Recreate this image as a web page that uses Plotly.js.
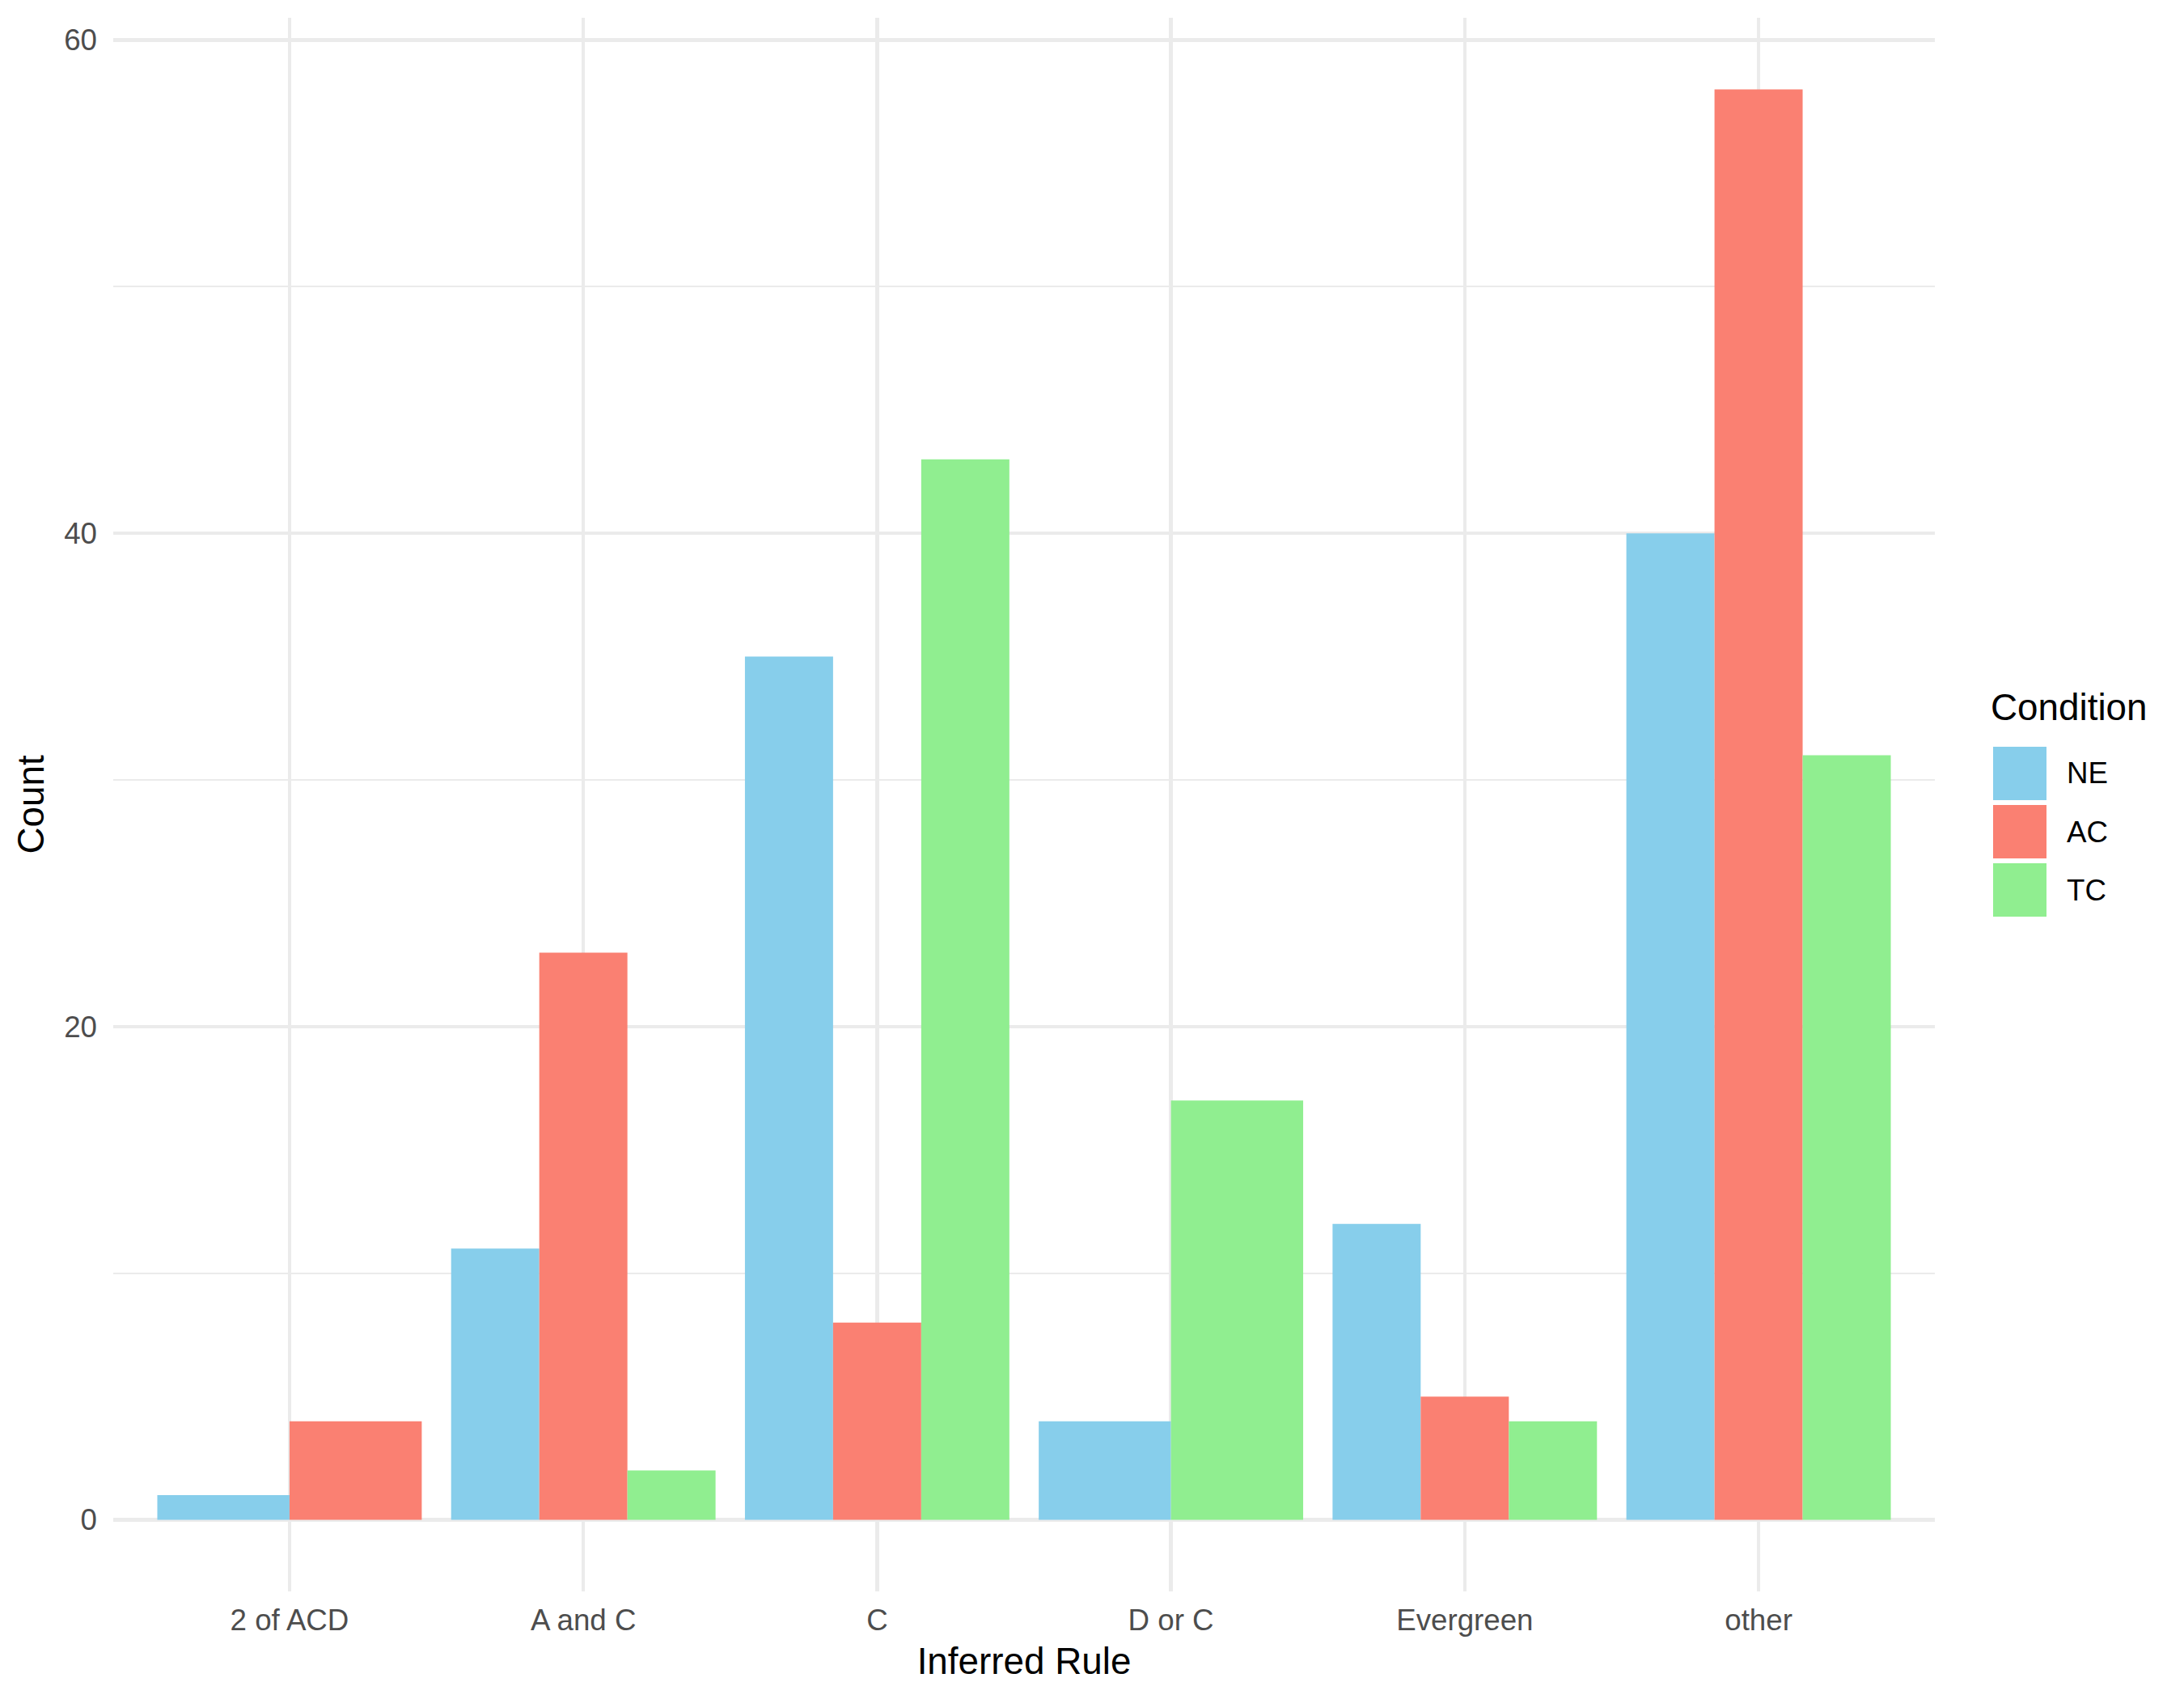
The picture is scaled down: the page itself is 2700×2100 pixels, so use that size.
<!DOCTYPE html>
<html>
<head>
<meta charset="utf-8">
<script src="https://cdn.plot.ly/plotly-3.0.1.min.js"></script>
<style>
  body { margin: 0; background: #fff; }
  #rulePlot { width: 2700px; height: 2100px; }
</style>
</head>
<body>
<div id="rulePlot"></div>
<script>
// inferred rule counts per condition (null = no bar in that group)
var rules = ['2 of ACD', 'A and C', 'C', 'D or C', 'Evergreen', 'other'];
var conditions = ['NE', 'AC', 'TC'];
var neCounts = [1, 11, 35, 4, 12, 40];
var acCounts = [4, 23, 8, null, 5, 58];
var tcCounts = [null, 2, 43, 17, 4, 31];
var colours = ['#87CEEB', '#FA8072', '#90EE90'];

var seriesCounts = [neCounts, acCounts, tcCounts];

// panel box in pixels, used for the hand drawn legend
var panel = { left: 140, right: 2392, top: 22, bottom: 1967 };
function px(x) { return (x - panel.left) / (panel.right - panel.left); }
function py(y) { return (panel.bottom - y) / (panel.bottom - panel.top); }

// ggplot style dodge: bars in a group share 0.9 of the slot
var groupWidth = 0.9;
var traces = [];
seriesCounts.forEach(function(counts, s) {
    var xs = [], ys = [], ws = [];
    rules.forEach(function(rule, i) {
        if (counts[i] === null) return;
        var present = [];
        seriesCounts.forEach(function(c, k) { if (c[i] !== null) present.push(k); });
        var n = present.length;
        var pos = present.indexOf(s);
        var w = groupWidth / n;
        xs.push(i - groupWidth / 2 + (pos + 0.5) * w);
        ys.push(counts[i]);
        ws.push(w);
    });
    traces.push({
        type: 'bar',
        name: conditions[s],
        x: xs,
        y: ys,
        width: ws,
        marker: { color: colours[s], line: { width: 0 } },
        showlegend: false
    });
});

var fontFamily = 'Liberation Sans, Arial, sans-serif';

// legend: keys + labels
var shapes = [];
var annotations = [{
    text: 'Condition', xref: 'paper', yref: 'paper',
    x: px(2459), y: py(875), xanchor: 'left', yanchor: 'middle',
    showarrow: false, font: { family: fontFamily, size: 45.8, color: '#000' }
}];
var keyTops = [923, 995, 1067];
conditions.forEach(function(name, k) {
    shapes.push({
        type: 'rect', xref: 'paper', yref: 'paper',
        x0: px(2464), x1: px(2530), y0: py(keyTops[k]), y1: py(keyTops[k] + 66),
        fillcolor: colours[k], line: { width: 0 }
    });
    annotations.push({
        text: name, xref: 'paper', yref: 'paper',
        x: px(2553), y: py(keyTops[k] + 33), xanchor: 'left', yanchor: 'middle',
        showarrow: false, font: { family: fontFamily, size: 36.7, color: '#000' }
    });
});

var layout = {
    width: 2700,
    height: 2100,
    paper_bgcolor: '#fff',
    plot_bgcolor: '#fff',
    barmode: 'overlay',
    showlegend: false,
    margin: { l: panel.left, r: 2700 - panel.right, t: panel.top, b: 2100 - panel.bottom },
    font: { family: fontFamily },
    xaxis: {
        range: [-0.6, 5.6],
        tickvals: [0, 1, 2, 3, 4, 5],
        ticktext: rules,
        ticks: '',
        ticklabelstandoff: 10,
        showgrid: true,
        gridcolor: '#ebebeb',
        gridwidth: 4.5,
        zeroline: false,
        showline: false,
        tickfont: { family: fontFamily, size: 36.7, color: '#4d4d4d' },
        title: { text: 'Inferred Rule', standoff: 15, font: { family: fontFamily, size: 45.8, color: '#000' } },
        automargin: false
    },
    yaxis: {
        range: [-2.9, 60.9],
        tickvals: [0, 20, 40, 60],
        ticks: '',
        ticklabelstandoff: 19,
        showgrid: true,
        gridcolor: '#ebebeb',
        gridwidth: 4.5,
        minor: { tickvals: [10, 30, 50], showgrid: true, gridcolor: '#ebebeb', gridwidth: 2, ticks: '' },
        zeroline: false,
        showline: false,
        tickfont: { family: fontFamily, size: 36.7, color: '#4d4d4d' },
        title: { text: 'Count', standoff: 10, font: { family: fontFamily, size: 45.8, color: '#000' } },
        automargin: false
    },
    shapes: shapes,
    annotations: annotations
};

Plotly.newPlot('rulePlot', traces, layout, { displayModeBar: false, staticPlot: true });
</script>
</body>
</html>
